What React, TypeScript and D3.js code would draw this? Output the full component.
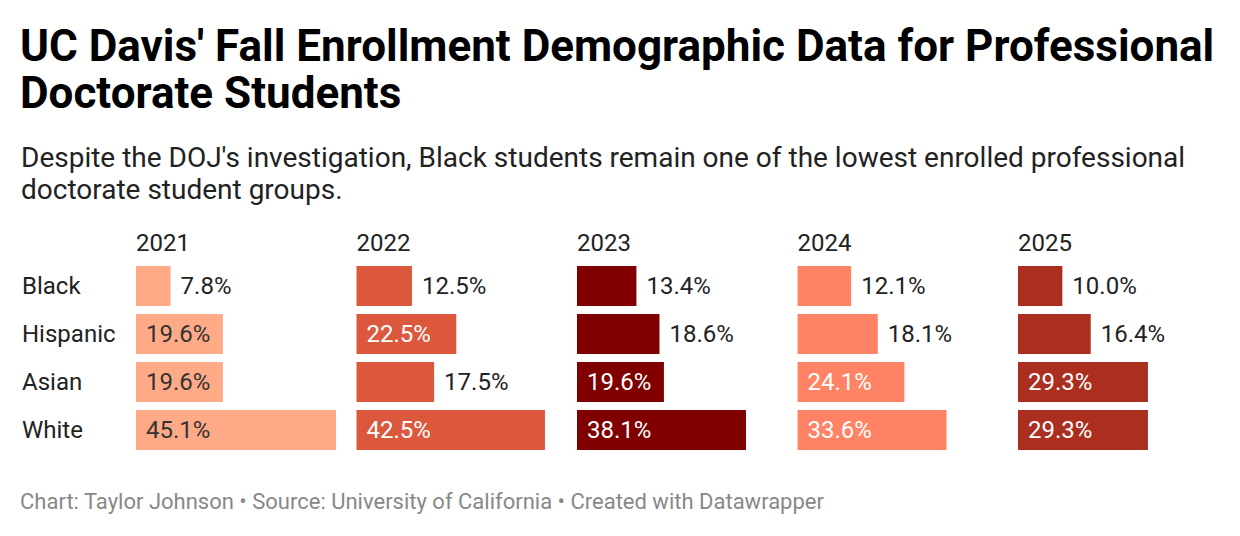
import React from "react";
import * as d3 from "d3";

const years = ["2021", "2022", "2023", "2024", "2025"];
const groups = ["Black", "Hispanic", "Asian", "White"];
const v2021 = [7.8, 19.6, 19.6, 45.1];
const v2022 = [12.5, 22.5, 17.5, 42.5];
const v2023 = [13.4, 18.6, 19.6, 38.1];
const v2024 = [12.1, 18.1, 24.1, 33.6];
const v2025 = [10.0, 16.4, 29.3, 29.3];
const seriesValues = [v2021, v2022, v2023, v2024, v2025];
const yearColors = ["#ffaa87", "#dc583d", "#800000", "#ff8364", "#ab2e1e"];
const insideTextColors = ["#333333", "#ffffff", "#ffffff", "#ffffff", "#ffffff"];

const title1 = "UC Davis' Fall Enrollment Demographic Data for Professional";
const title2 = "Doctorate Students";
const sub1 = "Despite the DOJ's investigation, Black students remain one of the lowest enrolled professional";
const sub2 = "doctorate student groups.";
const footer = "Chart: Taylor Johnson \u2022 Source: University of California \u2022 Created with Datawrapper";

export default function App() {
  const W = 1240, H = 536;
  const font = "Roboto, 'Noto Sans', sans-serif";
  const maxV = d3.max(seriesValues.flat()) as number;
  const x = d3.scaleLinear().domain([0, maxV]).range([0, 200]);
  const panel = d3.scaleBand<string>().domain(years).range([136, 1238.5]).paddingInner(0);
  const y = d3.scaleBand<string>().domain(groups).range([266, 450]).paddingInner(8 / 48).paddingOuter(0);
  const bh = y.bandwidth();

  return (
    <div style={{ position: "absolute", left: 0, top: 0 }}>
      <svg width={W} height={H} style={{ display: "block", background: "#fff" }} fontFamily={font}>
        <text x={20} y={61} fontSize={44} fontWeight={700} fill="#000">{title1}</text>
        <text x={20} y={108} fontSize={44} fontWeight={700} fill="#000">{title2}</text>
        <text x={21} y={167} fontSize={28} fill="#222">{sub1}</text>
        <text x={21} y={199} fontSize={28} fill="#222">{sub2}</text>

        {groups.map((g) => (
          <text key={g} x={22} y={(y(g) as number) + bh / 2} dy="0.32em" fontSize={24} fill="#222">{g}</text>
        ))}

        {years.map((yr, i) => {
          const x0 = panel(yr) as number;
          const vals = seriesValues[i];
          return (
            <g key={yr}>
              <text x={x0} y={251} fontSize={24} fill="#222">{yr}</text>
              {groups.map((g, j) => {
                const v = vals[j];
                const w = x(v);
                const yy = y(g) as number;
                const inside = v > 19;
                return (
                  <g key={g}>
                    <rect x={x0} y={yy} width={w} height={bh} fill={yearColors[i]} />
                    <text
                      x={inside ? x0 + 10 : x0 + w + 10}
                      y={yy + bh / 2}
                      dy="0.32em"
                      fontSize={24}
                      fill={inside ? insideTextColors[i] : "#222"}
                    >
                      {v.toFixed(1) + "%"}
                    </text>
                  </g>
                );
              })}
            </g>
          );
        })}

        <text x={20} y={509} fontSize={22} fill="#888">{footer}</text>
      </svg>
    </div>
  );
}
